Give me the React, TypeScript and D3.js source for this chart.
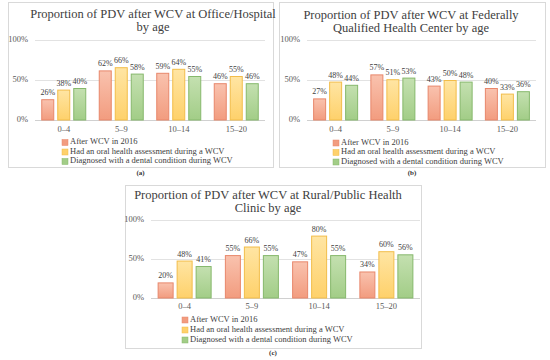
import React from 'react';
import * as d3 from 'd3';

const ageGroups = ['0\u20134', '5\u20139', '10\u201314', '15\u201320'];
const seriesNames = [
  'After WCV in 2016',
  'Had an oral health assessment during a WCV',
  'Diagnosed with a dental condition during WCV',
];
const officeValues = [
  [26, 62, 59, 46],
  [38, 66, 64, 55],
  [40, 58, 55, 46],
];
const fqhcValues = [
  [27, 57, 43, 40],
  [48, 51, 50, 33],
  [44, 53, 48, 36],
];
const ruralValues = [
  [20, 55, 47, 34],
  [48, 66, 80, 60],
  [41, 55, 55, 56],
];
const yTicks = [0, 50, 100];

const fills = [
  ['#f9c2ae', '#f29c7f', '#e8876b'],
  ['#ffe5a3', '#fed16b', '#f2bd4a'],
  ['#c4e0b0', '#a2cd87', '#86b86c'],
];

const font = 'Liberation Serif';

interface PanelProps {
  id: string;
  values: number[][];
  title: string[];
  caption: string;
  box: { x: number; y: number; w: number; h: number };
  plot: { x0: number; x1: number; yBase: number; yTop: number };
  titleX: number;
  titleY: number;
  barW: number;
  catY: number;
  legendX: number;
  legendY: number[];
  captionY: number;
}

function Panel(p: PanelProps) {
  const x = d3.scaleBand<string>().domain(ageGroups).range([p.plot.x0, p.plot.x1]);
  const y = d3.scaleLinear().domain([0, 100]).range([p.plot.yBase, p.plot.yTop]);
  const gap = 3;
  const groupW = p.barW * 3 + gap * 2;

  return (
    <g fontFamily={font}>
      <rect x={p.box.x + 0.5} y={p.box.y + 0.5} width={p.box.w} height={p.box.h}
        fill="#fff" stroke="#d9d9d9" />
      {p.title.map((t, i) => (
        <text key={i} x={p.titleX} y={p.titleY + i * 12.5} textAnchor="middle"
          fontSize={12.5} fill="#404040" dominantBaseline="middle">{t}</text>
      ))}
      {yTicks.map(t => (
        <g key={t}>
          <line x1={p.plot.x0} x2={p.plot.x1} y1={y(t) + 0.5} y2={y(t) + 0.5}
            stroke={t === 0 ? '#d0d0d0' : '#e2e2e2'} />
          <text x={p.plot.x0 - 7} y={y(t)} textAnchor="end" dominantBaseline="middle"
            fontSize={8.5} fill="#595959">{t}%</text>
        </g>
      ))}
      {ageGroups.map((g, gi) => {
        const cx = (x(g) || 0) + x.bandwidth() / 2;
        return (
          <g key={g}>
            {p.values.map((s, si) => {
              const bx = cx - groupW / 2 + si * (p.barW + gap);
              const v = s[gi];
              return (
                <g key={si}>
                  <rect x={bx + 0.5} y={y(v) + 0.5} width={p.barW - 1} height={y(0) - y(v) - 0.5}
                    fill={`url(#${p.id}-grad${si})`} stroke={fills[si][2]} strokeWidth={1} />
                  <text x={bx + p.barW / 2} y={y(v) - 4} textAnchor="middle"
                    fontSize={8} fill="#404040">{v}%</text>
                </g>
              );
            })}
            <text x={cx} y={p.catY} textAnchor="middle" dominantBaseline="middle"
              fontSize={8.5} fill="#595959">{g}</text>
          </g>
        );
      })}
      {seriesNames.map((n, si) => (
        <g key={n}>
          <rect x={p.legendX} y={p.legendY[si] - 3} width={6} height={6}
            fill={fills[si][1]} stroke={fills[si][2]} strokeWidth={0.5} />
          <text x={p.legendX + 8} y={p.legendY[si]} dominantBaseline="middle"
            fontSize={8.5} fill="#404040">{n}</text>
        </g>
      ))}
      <text x={p.box.x + p.box.w / 2} y={p.captionY} textAnchor="middle"
        dominantBaseline="middle" fontSize={7} fontWeight="bold" fill="#333">{p.caption}</text>
      <defs>
        {fills.map((f, si) => (
          <linearGradient key={si} id={`${p.id}-grad${si}`} x1="0" y1="0" x2="0" y2="1">
            <stop offset="0%" stopColor={f[0]} />
            <stop offset="100%" stopColor={f[1]} />
          </linearGradient>
        ))}
      </defs>
    </g>
  );
}

export default function App() {
  return (
    <svg width={550} height={360} style={{ position: 'absolute', left: 0, top: 0 }}>
      <rect width={550} height={360} fill="#fff" />
      <Panel id="a" values={officeValues}
        title={['Proportion of PDV after WCV at Office/Hospital', 'by age']}
        caption="(a)"
        box={{ x: 8, y: 2, w: 265, h: 165 }}
        plot={{ x0: 35, x1: 265, yBase: 120, yTop: 40 }}
        titleX={153} titleY={15.5} barW={13} catY={130}
        legendX={62} legendY={[142.5, 152, 161.5]}
        captionY={173} />
      <Panel id="b" values={fqhcValues}
        title={['Proportion of PDV after WCV at Federally', 'Qualified Health Center by age']}
        caption="(b)"
        box={{ x: 279, y: 2, w: 266, h: 165 }}
        plot={{ x0: 307, x1: 536, yBase: 120, yTop: 40 }}
        titleX={411} titleY={16.5} barW={13} catY={130}
        legendX={333} legendY={[143, 152.5, 162]}
        captionY={173} />
      <Panel id="c" values={ruralValues}
        title={['Proportion of PDV after WCV at Rural/Public Health', 'Clinic by age']}
        caption="(c)"
        box={{ x: 125, y: 185, w: 296, h: 163 }}
        plot={{ x0: 151, x1: 420, yBase: 298, yTop: 220 }}
        titleX={268} titleY={196.5} barW={16} catY={307}
        legendX={182} legendY={[320, 330, 340]}
        captionY={353} />
    </svg>
  );
}
